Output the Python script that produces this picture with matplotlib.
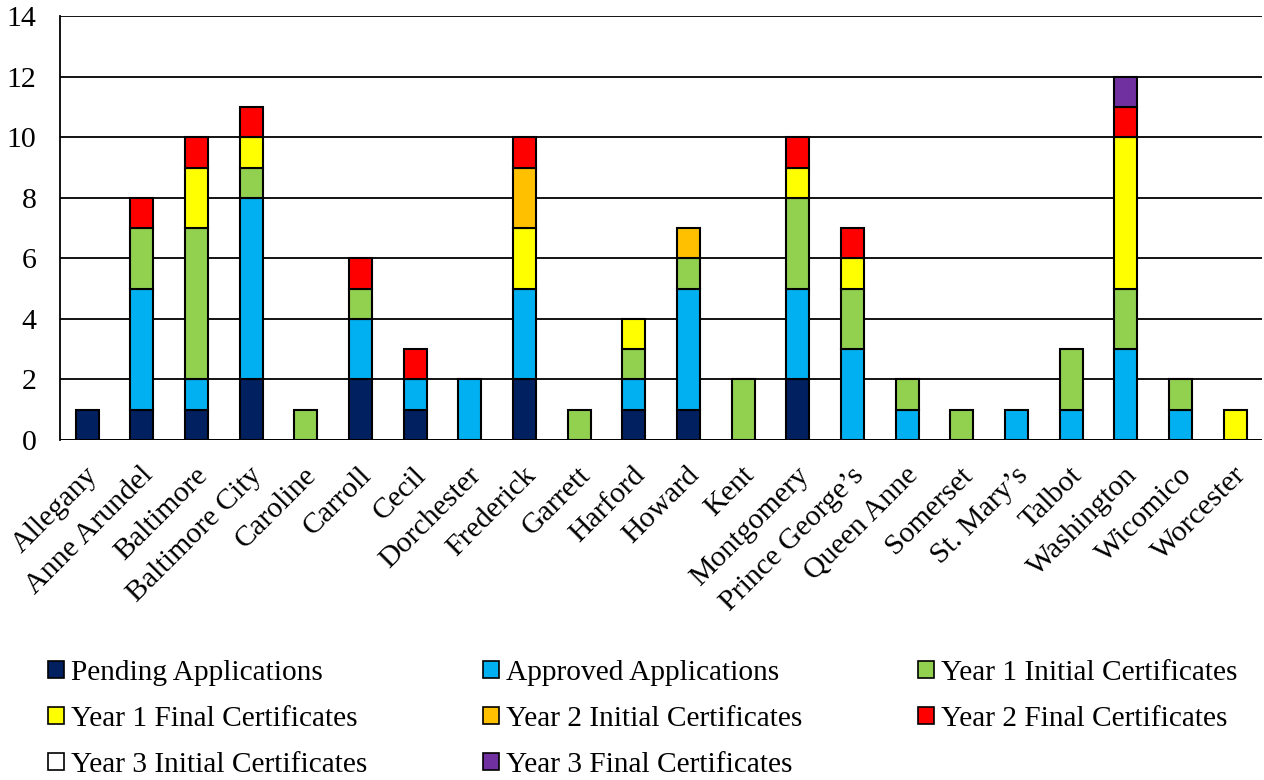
import numpy as np
import matplotlib.pyplot as plt
import matplotlib.transforms as mtransforms
from matplotlib.patches import Patch

plt.rcParams['font.family'] = ['Liberation Serif', 'DejaVu Serif']

#Condados
condados = ['Allegany', 'Anne Arundel', 'Baltimore', 'Baltimore City', 'Caroline',
            'Carroll', 'Cecil', 'Dorchester', 'Frederick', 'Garrett', 'Harford',
            'Howard', 'Kent', 'Montgomery', 'Prince George\u2019s', 'Queen Anne',
            'Somerset', 'St. Mary\u2019s', 'Talbot', 'Washington', 'Wicomico', 'Worcester']

#Valores de cada serie (un valor por condado)
pending     = [1, 1, 1, 2, 0, 2, 1, 0, 2, 0, 1, 1, 0, 2, 0, 0, 0, 0, 0, 0, 0, 0]
approved    = [0, 4, 1, 6, 0, 2, 1, 2, 3, 0, 1, 4, 0, 3, 3, 1, 0, 1, 1, 3, 1, 0]
y1_initial  = [0, 2, 5, 1, 1, 1, 0, 0, 0, 1, 1, 1, 2, 3, 2, 1, 1, 0, 2, 2, 1, 0]
y1_final    = [0, 0, 2, 1, 0, 0, 0, 0, 2, 0, 1, 0, 0, 1, 1, 0, 0, 0, 0, 5, 0, 1]
y2_initial  = [0, 0, 0, 0, 0, 0, 0, 0, 2, 0, 0, 1, 0, 0, 0, 0, 0, 0, 0, 0, 0, 0]
y2_final    = [0, 1, 1, 1, 0, 1, 1, 0, 1, 0, 0, 0, 0, 1, 1, 0, 0, 0, 0, 1, 0, 0]
y3_initial  = [0, 0, 0, 0, 0, 0, 0, 0, 0, 0, 0, 0, 0, 0, 0, 0, 0, 0, 0, 0, 0, 0]
y3_final    = [0, 0, 0, 0, 0, 0, 0, 0, 0, 0, 0, 0, 0, 0, 0, 0, 0, 0, 0, 1, 0, 0]

series = [pending, approved, y1_initial, y1_final, y2_initial, y2_final, y3_initial, y3_final]
nombres = ['Pending Applications', 'Approved Applications', 'Year 1 Initial Certificates',
           'Year 1 Final Certificates', 'Year 2 Initial Certificates', 'Year 2 Final Certificates',
           'Year 3 Initial Certificates', 'Year 3 Final Certificates']
colores = ['#002060', '#00B0F0', '#92D050', '#FFFF00', '#FFC000', '#FF0000', '#FFFFFF', '#7030A0']

fig = plt.figure(figsize=(12.64, 7.80), dpi=100)
ax = fig.add_axes([0.0475, 0.436, 0.951, 0.543])

x = np.arange(len(condados))
base = np.zeros(len(condados))
for vals, col in zip(series, colores):
    v = np.array(vals, dtype=float)
    m = v > 0
    if m.any():
        ax.bar(x[m], v[m], bottom=base[m], width=0.42, color=col,
               edgecolor='black', linewidth=1.5, zorder=3)
    base += v

ax.set_ylim(0, 14)
ax.set_yticks(np.arange(0, 15, 2))
ax.set_xlim(-0.494, len(condados) - 0.506)
ax.yaxis.grid(True, color='black', linewidth=1.3)
ax.set_axisbelow(True)
for s in ['top', 'right', 'bottom']:
    ax.spines[s].set_visible(False)
ax.spines['left'].set_linewidth(1.3)
ax.axhline(0, color='black', linewidth=1.3, zorder=2)
ax.tick_params(axis='both', length=0, labelsize=21.5)
ax.tick_params(axis='y', pad=17)
ax.tick_params(axis='x', pad=16)
ax.set_xticks(x)
ax.set_xticklabels(condados, rotation=45, ha='right', rotation_mode='anchor')
for lbl in ax.get_xticklabels():
    lbl.set_transform(lbl.get_transform() + mtransforms.ScaledTranslation(-0.02, 0, fig.dpi_scale_trans))

#Leyenda en orden por filas
handles = [Patch(facecolor=c, edgecolor='black', linewidth=1.2) for c in colores]
orden = [0, 3, 6, 1, 4, 7, 2, 5]
fig.legend([handles[i] for i in orden], [nombres[i] for i in orden],
           loc='lower left', bbox_to_anchor=(0.0285, -0.0125, 0.96, 0.2), mode='expand',
           ncol=3, frameon=False, fontsize=21.2, handlelength=0.55, handleheight=0.55,
           handletextpad=0.25, labelspacing=0.68, borderaxespad=0)

plt.savefig('out.png')
